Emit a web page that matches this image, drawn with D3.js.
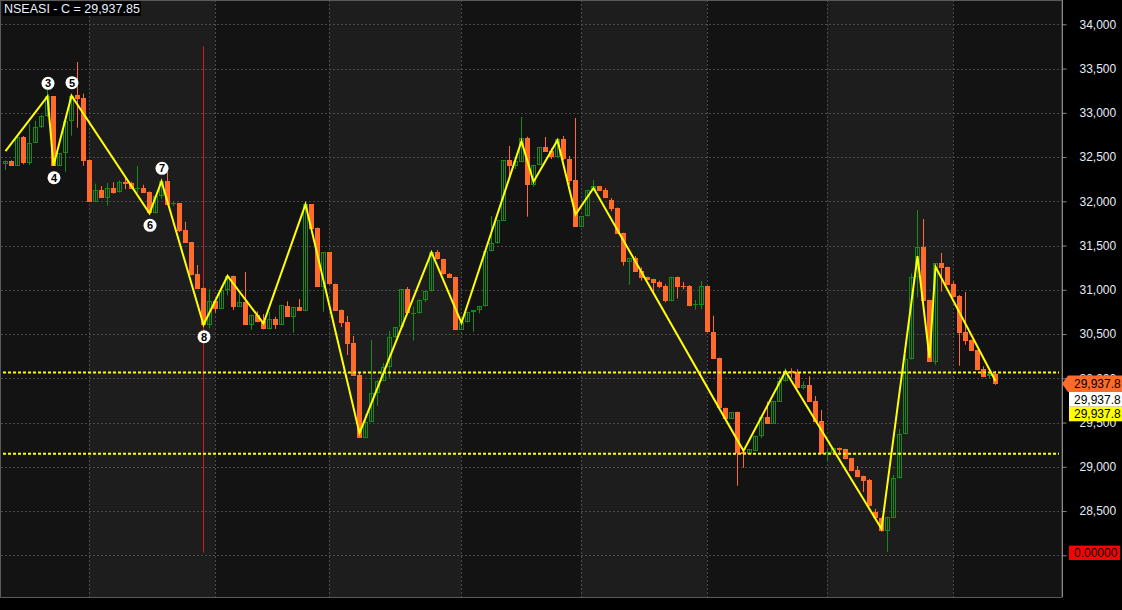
<!DOCTYPE html>
<html><head><meta charset="utf-8">
<script src="https://cdn.jsdelivr.net/npm/d3@7/dist/d3.min.js"></script>
<style>html,body{margin:0;padding:0;background:#000;overflow:hidden}svg{display:block}</style>
</head><body><svg id="c" width="1122" height="610"></svg>
<script>
const titleText = "NSEASI - C = 29,937.85";
const openV = [32421,32452,32402,32727,32433,32662,32836,32960,33186,32402,
32542,32904,33201,33167,32467,31995,32124,32041,32147,32102,
32221,32207,32139,32147,32105,31864,32056,32226,31969,31981,
31676,31537,31178,31020,30605,30870,30786,31001,31156,30809,
30859,30605,30719,30644,30557,30667,30605,30817,30696,30809,
30764,31966,31698,31035,31424,31065,30772,30636,30399,30037,
29329,29509,29830,29969,30131,30463,30576,31005,30732,30734,
30885,30983,31427,31348,31178,31145,30549,30633,30746,30768,
30813,31438,31525,31781,32463,32402,32447,32715,32184,32410,
32614,32568,32504,32704,32478,32241,31713,31830,32124,32169,
32128,32015,31924,31642,31311,31359,31213,31145,31122,31088,
31043,30873,31145,31039,31043,30828,30831,31043,30523,30229,
29664,29543,29619,29170,29148,29182,29344,29563,29487,29735,
29966,30079,30068,29894,29924,29743,29517,29164,29159,29212,
29201,29099,28964,28896,28850,28489,28425,28274,28425,28870,
29370,30215,31141,31480,30885,30187,31303,31258,31069,30930,
30523,30433,30320,30105,30026,30052];
const highV = [32460,32463,32727,32738,32870,32911,32975,33258,33190,32546,
32907,33193,33574,33216,32472,32199,32173,32207,32215,32237,
32260,32221,32399,32187,32111,32060,32229,32331,31992,31981,
31769,31540,31280,31026,31009,30873,31003,31171,31161,30960,
31201,30720,30757,30726,30749,30696,30828,30870,30805,30896,
31970,31970,31704,31427,31427,31069,30777,30704,30478,30060,
29596,30433,29975,30173,30534,30581,31009,31031,30809,30890,
30986,31427,31450,31351,31190,31148,30681,30749,30772,30817,
31442,31834,31789,32467,32625,32467,32953,32730,32413,32614,
32727,32599,32704,32738,32512,32941,31834,32131,32241,32173,
32150,32037,31930,31645,31363,31382,31254,31148,31125,31103,
31062,31148,31148,31088,31054,30885,31099,31046,30707,30233,
29668,29619,29623,29173,29201,29351,29563,29736,29747,30018,
30113,30113,30102,29966,30022,29800,29642,29190,29216,29216,
29204,29102,29009,28899,28862,28525,28427,28438,28907,29427,
30263,31186,31902,31800,30888,31303,31416,31261,31091,30941,
30975,30436,30323,30135,30060,30079];
const lowV = [32353,32399,32399,32418,32410,32659,32828,32953,32399,32399,
32334,32741,32832,32402,31992,31992,32037,31950,32086,32099,
32136,32139,32097,32094,31862,31862,32029,31955,31947,31653,
31529,31164,31009,30599,30565,30741,30783,30938,30772,30805,
30602,30546,30633,30553,30553,30557,30602,30692,30515,30760,
30760,31687,31031,30752,31060,30760,30579,30263,30026,29325,
29325,29506,29690,29966,30007,30455,30574,30732,30427,30732,
30862,30981,31342,31173,31133,30546,30546,30630,30526,30734,
30811,31435,31523,31779,32278,32365,32444,31826,32165,32407,
32557,32478,32501,32467,32187,31709,31709,31828,32122,32116,
32037,31887,31630,31272,31057,31201,31103,31111,30967,31017,
30858,30870,30901,31005,30813,30775,30783,30519,30218,29659,
29540,29540,28786,28990,29144,29178,29322,29484,29484,29732,
29964,30007,29890,29871,29732,29503,29144,29073,29156,29130,
29084,28949,28881,28715,28554,28421,28271,28037,28421,28868,
29367,30212,30915,30873,30184,30153,30980,31054,30918,30142,
30380,30308,30090,30011,29995,29926];
const closeV = [32452,32402,32727,32433,32662,32836,32960,33186,32402,32542,
32904,33193,33159,32455,31995,32124,32041,32147,32097,32221,
32199,32142,32147,32097,31864,32056,32226,31958,31981,31664,
31532,31167,31012,30605,30870,30786,31001,31156,30809,30859,
30605,30712,30636,30557,30667,30605,30825,30696,30802,30764,
31966,31690,31035,31424,31062,30764,30621,30390,30029,29329,
29509,29830,29969,30131,30463,30576,31005,30734,30738,30885,
30983,31424,31345,31175,31137,30549,30633,30746,30768,30813,
31438,31525,31785,32463,32399,32452,32715,32184,32410,32610,
32560,32504,32700,32475,32233,31713,31830,32128,32169,32120,
32041,31913,31634,31311,31359,31204,31133,31114,31080,31031,
30873,31145,31035,31031,30817,30836,31043,30523,30221,29661,
29543,29616,29152,29141,29198,29348,29559,29487,29743,29966,
30079,30056,29894,29924,29735,29506,29148,29170,29212,29190,
29088,28952,28885,28839,28557,28425,28274,28436,28870,29370,
30215,31141,31480,30877,30187,31299,31250,31057,30922,30512,
30425,30312,30094,30015,30052,29937.85];

// month starts (candle index) -> alternating background bands
const monthStarts = [0,14,35,54,76,96,117,137,158];

// zig-zag indicator
const zzIdx = [0,7,8,11,24,26,33,37,43,50,59,71,76,86,88,92,95,98,123,130,146,152,154,155,165];
const zzVal = [32568,33186,32402,33193,31864,32226,30605,31156,30620,31966,29380,31424,30625,32680,32220,32690,31850,32150,29180,30079,28300,31380,30230,31260,29970];

// wave labels
const markerLabels = ["3","4","5","6","7","8"];
const markerIdx = [7,8,11,24,26,33];
const markerVal = [33186,32402,33193,31864,32226,30605];
const markerSide = ["up","down","up","down","up","down"];

// horizontal levels
const hLevels = [30065, 29148];
// vertical marker line
const vLineIdx = 33, vLineFrom = 33750, vLineTo = 28030;

const yTicks = d3.range(28000, 34001, 500);
const yTickLabelsShown = d3.range(28500, 34001, 500); // 28,000 label is hidden under the indicator box
const tagTexts = ["29,937.8","29,937.8","29,937.8"];
const indicatorText = "0.00000";

const W = 1122, H = 610, plotR = 1062, plotB = 597;
const FONT = "'Liberation Sans', Arial, sans-serif";
const svg = d3.select("#c");
svg.append("rect").attr("width",W).attr("height",H).attr("fill","#000");

const n = closeV.length;
const x = d3.scaleLinear().domain([0, n-1]).range([5.5, 5.5 + 6*(n-1)]);
const y = d3.scaleLinear().domain([28000, 34000]).range([555.3, 24.3]);

// bands
const bandEdges = monthStarts.map((m,i)=> i===0 ? 0 : Math.round(x(m)-0.5));
bandEdges.forEach((e,i)=>{
  const e2 = i < bandEdges.length-1 ? bandEdges[i+1] : plotR;
  svg.append("rect").attr("x",e).attr("y",0).attr("width",e2-e).attr("height",plotB)
    .attr("fill", i%2===0 ? "#131313" : "#1d1d1d");
});

// gridlines
const grid = svg.append("g");
yTicks.forEach(t=>{
  grid.append("line").attr("x1",1).attr("x2",plotR).attr("y1",Math.round(y(t))+0.5).attr("y2",Math.round(y(t))+0.5)
    .attr("stroke","#4a4a4a").attr("stroke-width",1).attr("stroke-dasharray","2,2");
});
monthStarts.slice(1).forEach(m=>{
  const xx = Math.floor(x(m))+0.5;
  grid.append("line").attr("x1",xx).attr("x2",xx).attr("y1",0).attr("y2",plotB)
    .attr("stroke","#4a4a4a").attr("stroke-width",1).attr("stroke-dasharray","2,2");
});

// border
svg.append("rect").attr("x",0.5).attr("y",0.5).attr("width",plotR-0.5).attr("height",plotB)
  .attr("fill","none").attr("stroke","#5a5a5a");

// vertical red marker
svg.append("line").attr("x1",Math.floor(x(vLineIdx))+0.5).attr("x2",Math.floor(x(vLineIdx))+0.5)
  .attr("y1",y(vLineFrom)).attr("y2",y(vLineTo)).attr("stroke","#d41c1c").attr("stroke-width",1);

// candles
const ORANGE = "#ff6b2b", GREEN = "#178a17";
const cg = svg.append("g");
for (let i=0;i<n;i++){
  const up = closeV[i] >= openV[i];
  const col = up ? GREEN : ORANGE;
  const cx = Math.floor(x(i)) + 0.5;
  cg.append("line").attr("x1",cx).attr("x2",cx).attr("y1",y(highV[i])).attr("y2",y(lowV[i]))
    .attr("stroke",col).attr("stroke-width",1);
  const top = y(Math.max(openV[i],closeV[i])), bot = y(Math.min(openV[i],closeV[i]));
  const left = Math.floor(x(i)) - 2;
  if (up) {
    const t = Math.round(top)+0.5, b = Math.max(Math.round(bot)+0.5, t+1);
    if (b-t-1 < 1) {
      cg.append("line").attr("x1",left).attr("x2",left+5).attr("y1",t).attr("y2",t).attr("stroke",col);
    } else {
      cg.append("rect").attr("x",left+0.5).attr("y",t).attr("width",4).attr("height",b-t-1)
        .attr("fill","#000").attr("fill-opacity",0).attr("stroke",col).attr("stroke-width",1);
    }
  } else {
    const t = Math.round(top), h = Math.max(Math.round(bot)-t, 1);
    cg.append("rect").attr("x",left).attr("y",t).attr("width",5).attr("height",h).attr("fill",col);
  }
}

// horizontal yellow dotted levels
hLevels.forEach(v=>{
  svg.append("line").attr("x1",3).attr("x2",plotR-3).attr("y1",y(v)).attr("y2",y(v))
    .attr("stroke","#ffff00").attr("stroke-width",2).attr("stroke-dasharray","3,2");
});

// zigzag
const zz = zzIdx.map((d,i)=>[x(d), y(zzVal[i])]);
svg.append("path").attr("d", d3.line()(zz)).attr("fill","none").attr("stroke","#ffff00").attr("stroke-width",2);

// wave markers
markerLabels.forEach((lab,i)=>{
  const mx = x(markerIdx[i]) + 0.5;
  const my = y(markerVal[i]) + (markerSide[i]==="up" ? -13 : 12);
  svg.append("circle").attr("cx",mx).attr("cy",my).attr("r",6.5).attr("fill","#fff");
  svg.append("text").attr("x",mx).attr("y",my+4).attr("text-anchor","middle")
    .attr("font-family",FONT).attr("font-weight","bold").attr("font-size",11).attr("fill","#000").text(lab);
});

// right axis
svg.append("rect").attr("x",plotR+0.5).attr("y",0).attr("width",W-plotR).attr("height",H).attr("fill","#000");
svg.append("line").attr("x1",plotR+0.5).attr("x2",plotR+0.5).attr("y1",0).attr("y2",plotB)
  .attr("stroke","#8a8a8a");
const fmt = d3.format(",");
const axis = d3.axisRight(y).tickValues(yTicks).tickSize(4).tickPadding(13)
  .tickFormat(d => yTickLabelsShown.includes(d) ? fmt(d) : "");
const ag = svg.append("g").attr("transform",`translate(${plotR+0.5},0)`).call(axis);
ag.select(".domain").remove();
ag.selectAll(".tick line").attr("stroke","#8a8a8a");
ag.selectAll(".tick text").attr("fill","#e4ecf8").attr("font-family",FONT).attr("font-size",12);

// price tags
const yc = y(closeV[n-1]);
svg.append("path").attr("d",`M${plotR},${yc} L${plotR+6},${yc-8.2} L${W},${yc-8.2} L${W},${yc+8.2} L${plotR+6},${yc+8.2} Z`)
  .attr("fill",ORANGE);
svg.append("rect").attr("x",plotR+7).attr("y",yc+8.2).attr("width",W-plotR-7).attr("height",14.8).attr("fill","#fff");
svg.append("rect").attr("x",plotR+7).attr("y",yc+23).attr("width",W-plotR-7).attr("height",14.5).attr("fill","#ffff00");
[yc+4.3, yc+19.8, yc+34.6].forEach((ty,i)=>{
  svg.append("text").attr("x",plotR+12).attr("y",ty).attr("font-family",FONT).attr("font-size",12)
    .attr("fill","#000").text(tagTexts[i]);
});
const yi = y(28000) - 2.5;
svg.append("rect").attr("x",plotR+7).attr("y",yi-7.2).attr("width",51).attr("height",14.4).attr("fill","#ff0000");
svg.append("text").attr("x",plotR+12).attr("y",yi+4.3).attr("font-family",FONT).attr("font-size",12)
  .attr("fill","#000").text(indicatorText);

// title
const tbg = svg.append("rect").attr("x",3).attr("y",1.5).attr("height",14.5).attr("fill","#000");
const tt = svg.append("text").attr("x",4).attr("y",13).attr("font-family",FONT).attr("font-size",12.5)
  .attr("fill","#e8f0ff").text(titleText);
const bb = tt.node().getBBox();
tbg.attr("x",bb.x-1).attr("width",bb.width+2);
</script>
</body></html>
